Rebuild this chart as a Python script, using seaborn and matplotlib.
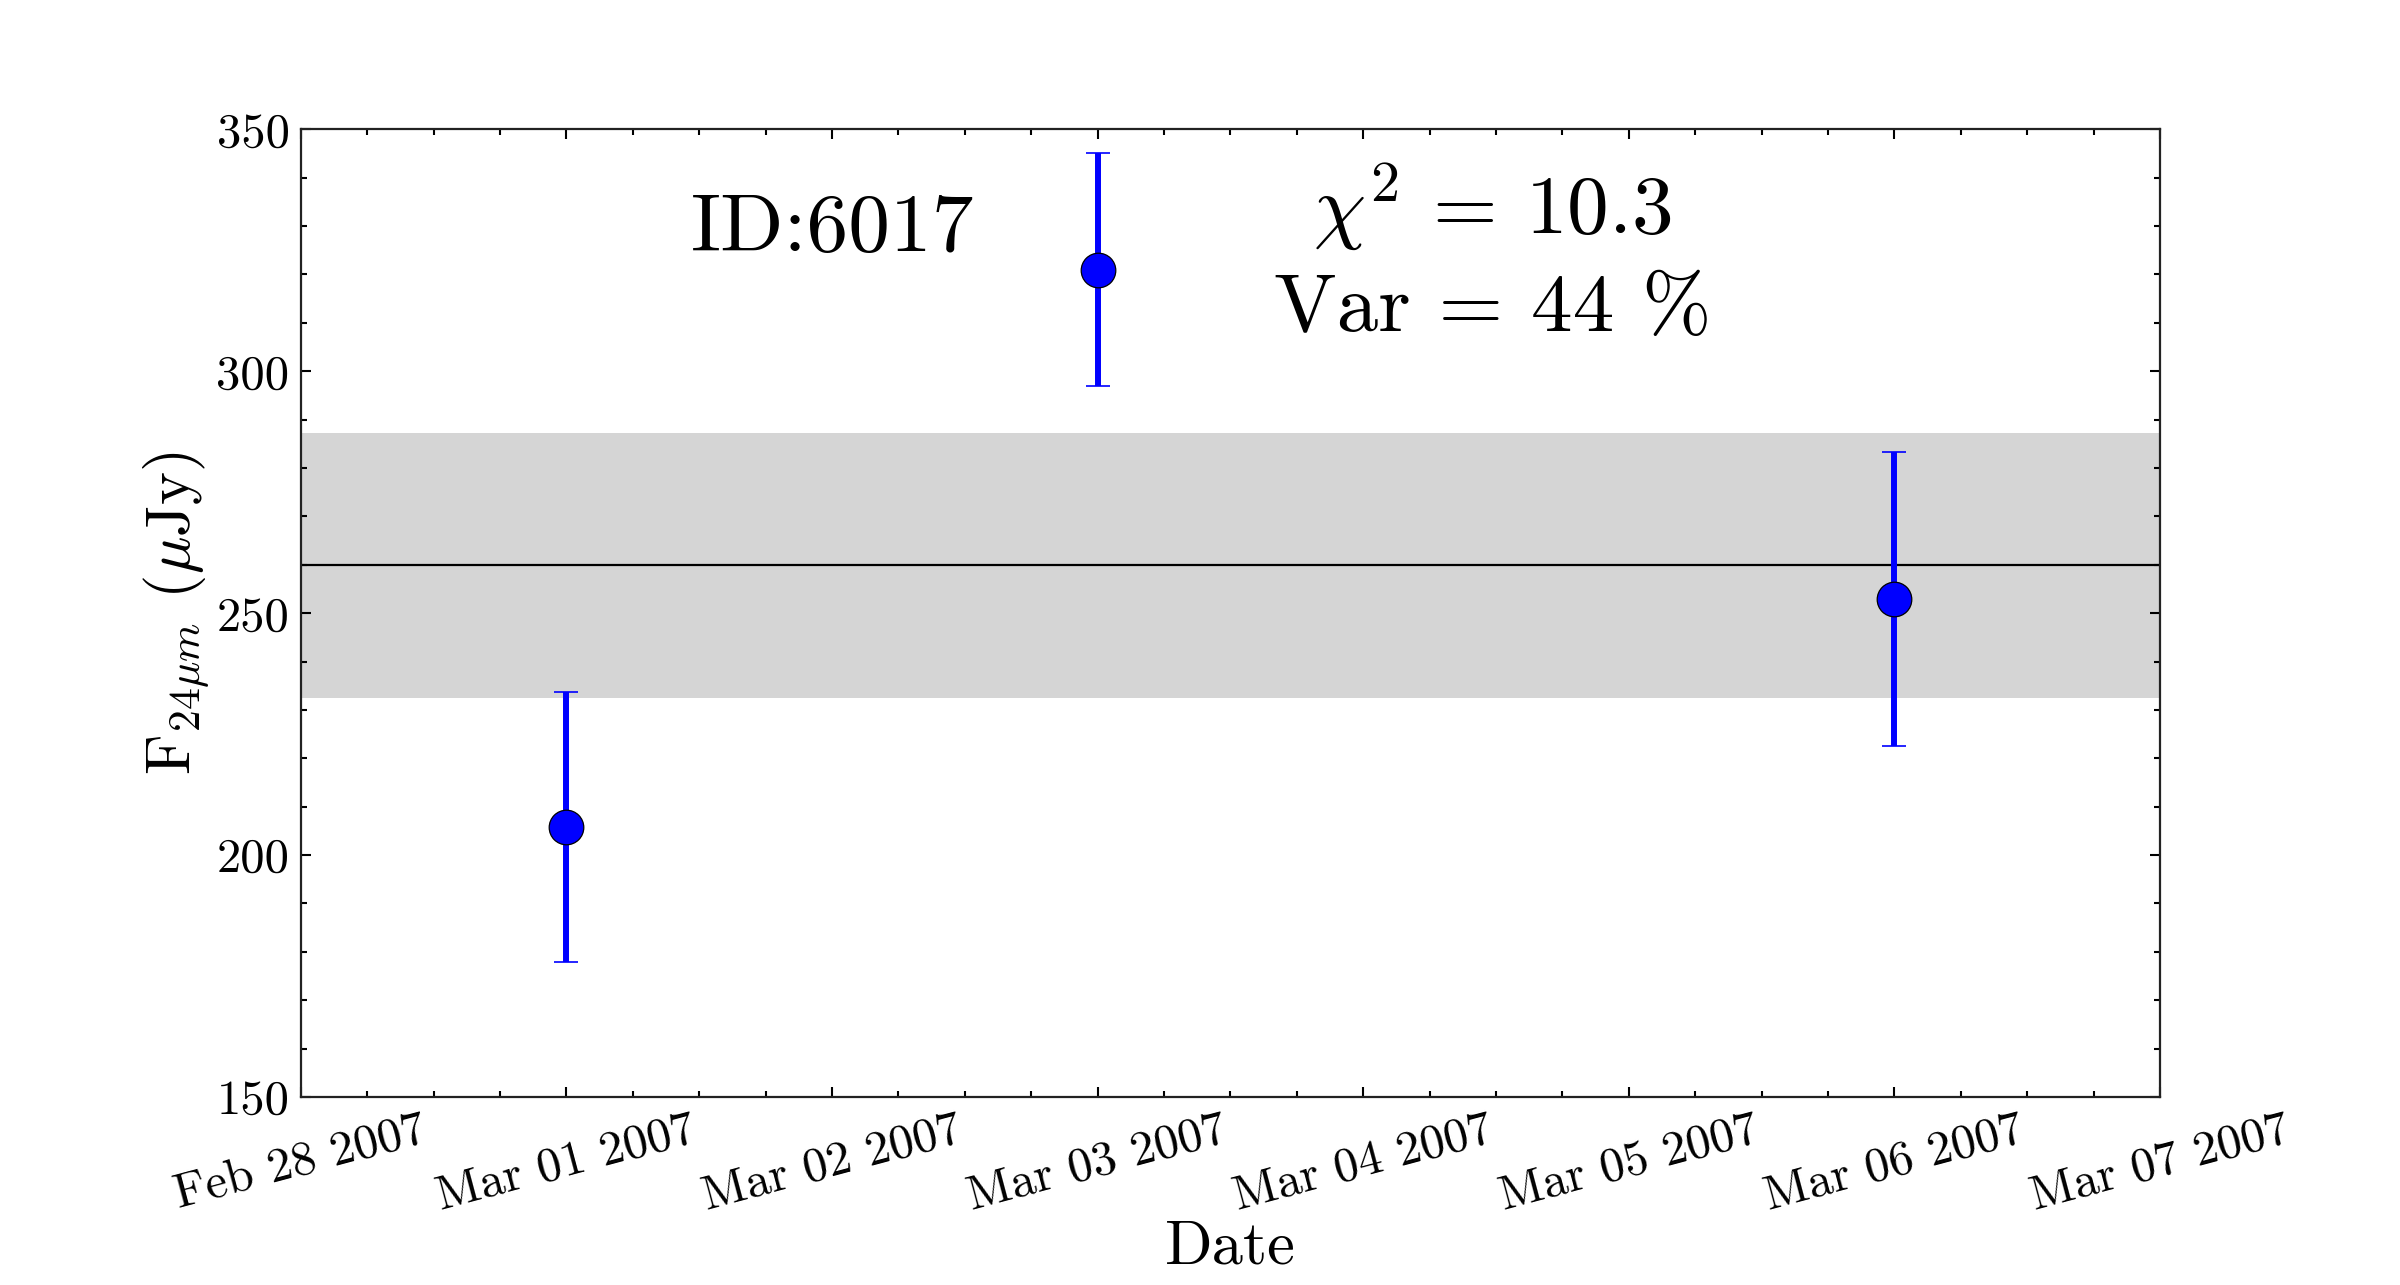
import pandas as pd
import seaborn as sns
import matplotlib
matplotlib.use("Agg")
import matplotlib.pyplot as plt
import matplotlib.dates as mdates
from matplotlib.ticker import MultipleLocator

# Data
dates = ["2007-03-01", "2007-03-03", "2007-03-06"]
flux = [205.8, 321.0, 252.9]
flux_err = [27.8, 24.0, 30.3]
mean_flux = 259.9
band_err = 27.4
source_id = "ID:6017"
chi2_text = r"$\chi^2$ = 10.3"
var_text = "Var = 44 %"

df = pd.DataFrame({"date": pd.to_datetime(dates), "flux": flux, "err": flux_err})

sns.set_style("ticks")
plt.rcParams["font.family"] = "serif"
plt.rcParams["font.serif"] = ["cmr10", "DejaVu Serif"]
plt.rcParams["mathtext.fontset"] = "cm"
plt.rcParams["axes.unicode_minus"] = False
plt.rcParams["text.color"] = "black"
plt.rcParams["axes.labelcolor"] = "black"
plt.rcParams["xtick.color"] = "black"
plt.rcParams["ytick.color"] = "black"

fig = plt.figure(figsize=(24, 12.85), dpi=100)
ax = fig.add_axes([0.1253, 0.1463, 0.7747, 0.7531])

# mean level and band of mean error
ax.axhspan(mean_flux - band_err, mean_flux + band_err, color="#d5d5d5", lw=0, zorder=0)
ax.axhline(mean_flux, color="black", lw=1.6, zorder=1)

ax.errorbar(df["date"], df["flux"], yerr=df["err"], fmt="none", ecolor="blue",
            elinewidth=4.3, capsize=8.5, capthick=1.2, zorder=2)
sns.scatterplot(data=df, x="date", y="flux", ax=ax, color="blue", s=620,
                edgecolor="black", linewidth=0.9, zorder=3)

ax.set_xlim(pd.Timestamp("2007-02-28"), pd.Timestamp("2007-03-07"))
ax.set_ylim(150, 350)

ax.xaxis.set_major_locator(mdates.DayLocator())
ax.xaxis.set_major_formatter(mdates.DateFormatter("%b %d %Y"))
ax.xaxis.set_minor_locator(mdates.HourLocator(byhour=[6, 12, 18]))
ax.yaxis.set_major_locator(MultipleLocator(50))
ax.yaxis.set_minor_locator(MultipleLocator(10))

ax.tick_params(which="both", direction="in", top=True, right=True, width=1.5,
               color="black")
ax.tick_params(which="major", length=7, labelsize=35, pad=8)
ax.tick_params(which="minor", length=4)
for lab in ax.get_xticklabels():
    lab.set_rotation(15)
    lab.set_ha("center")

for sp in ax.spines.values():
    sp.set_linewidth(1.6)
    sp.set_color("#222222")

ax.set_xlabel("Date", fontsize=45, labelpad=0)
ax.set_ylabel(r"F$_{24\mu m}$ ($\mu$Jy)", fontsize=45, labelpad=4)

ax.text(0.286, 0.896, source_id, transform=ax.transAxes, fontsize=60,
        ha="center", va="center")
ax.text(0.641, 0.871, chi2_text + "\n" + var_text, transform=ax.transAxes,
        fontsize=60, ha="center", va="center", linespacing=1.37)

fig.savefig("out.png", dpi=100)
